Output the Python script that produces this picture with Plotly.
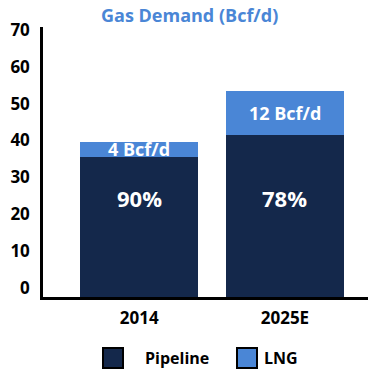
import plotly.graph_objects as go

# Gas demand by supply source (Bcf/d)
years = ["2014", "2025E"]
pipeline = [38, 43.8]
lng = [4, 12]
series_names = ["Pipeline", "LNG"]
series_colors = ["#14284b", "#4a86d6"]
y_ticks = [0, 10, 20, 30, 40, 50, 60, 70]

W, H = 368, 373
L, R, T, B = 43, 0, 27, 76
FONT = "Open Sans"

totals = [p + g for p, g in zip(pipeline, lng)]
shares = [f"{round(p / t * 100)}%" for p, t in zip(pipeline, totals)]
lng_text = [f"{g:g} Bcf/d" for g in lng]

fig = go.Figure()
fig.add_trace(go.Bar(x=years, y=pipeline, name=series_names[0],
                     marker=dict(color=series_colors[0], line=dict(width=0)),
                     showlegend=False))
fig.add_trace(go.Bar(x=years, y=lng, name=series_names[1],
                     marker=dict(color=series_colors[1], line=dict(width=0)),
                     showlegend=False))

annotations = []
for i, (p, g, s, t) in enumerate(zip(pipeline, lng, shares, lng_text)):
    # pipeline share, on a common level across the dark segments
    annotations.append(dict(x=i, y=26.8, xref="x", yref="y", text=s,
                            showarrow=False, yanchor="middle",
                            font=dict(family=FONT, size=22, color="white", weight="bold")))
    # LNG volume, centred on the light segment
    annotations.append(dict(x=i, y=p + g / 2, xref="x", yref="y", text=t,
                            showarrow=False, yanchor="middle",
                            font=dict(family=FONT, size=18, color="white", weight="bold")))

# chart title
annotations.append(dict(x=(189 - L) / (W - L - R), y=(H - B - 15) / (H - T - B),
                        xref="paper", yref="paper", text="Gas Demand (Bcf/d)",
                        showarrow=False, xanchor="center", yanchor="middle",
                        font=dict(family=FONT, size=18, color="#4a86d6", weight="bold")))

# legend row: square swatches with labels
shapes = []
pw, ph = W - L - R, H - T - B
def px_x(v):
    return (v - L) / pw
def px_y(v):
    return (H - B - v) / ph

legend_items = [(103, 143), (237, 262)]
for (sx, tx), name, col in zip(legend_items, series_names, series_colors):
    shapes.append(dict(type="rect", xref="paper", yref="paper",
                       x0=px_x(sx), x1=px_x(sx + 20), y0=px_y(368), y1=px_y(348),
                       fillcolor=col, line=dict(color="black", width=2)))
    annotations.append(dict(x=px_x(tx), y=px_y(358), xref="paper", yref="paper",
                            text=name, showarrow=False, xanchor="left", yanchor="middle",
                            font=dict(family=FONT, size=16, color="black", weight="bold")))

fig.update_layout(
    width=W, height=H,
    margin=dict(l=L, r=R, t=T, b=B, pad=0),
    barmode="stack", bargap=0.19,
    plot_bgcolor="white", paper_bgcolor="white",
    showlegend=False,
    annotations=annotations, shapes=shapes,
    xaxis=dict(range=[-0.66, 1.57], showline=True, linecolor="black", linewidth=2.5,
               ticks="", showgrid=False, zeroline=False, ticklabelstandoff=4,
               tickfont=dict(family=FONT, size=17, color="black", weight="bold")),
    yaxis=dict(range=[0, 73.2], showline=True, linecolor="black", linewidth=2.5,
               ticks="", showgrid=False, zeroline=False,
               tickvals=y_ticks, ticklabelshift=-9, ticklabelstandoff=7,
               tickfont=dict(family=FONT, size=17, color="black", weight="bold")),
)

fig.write_html("out.html")
